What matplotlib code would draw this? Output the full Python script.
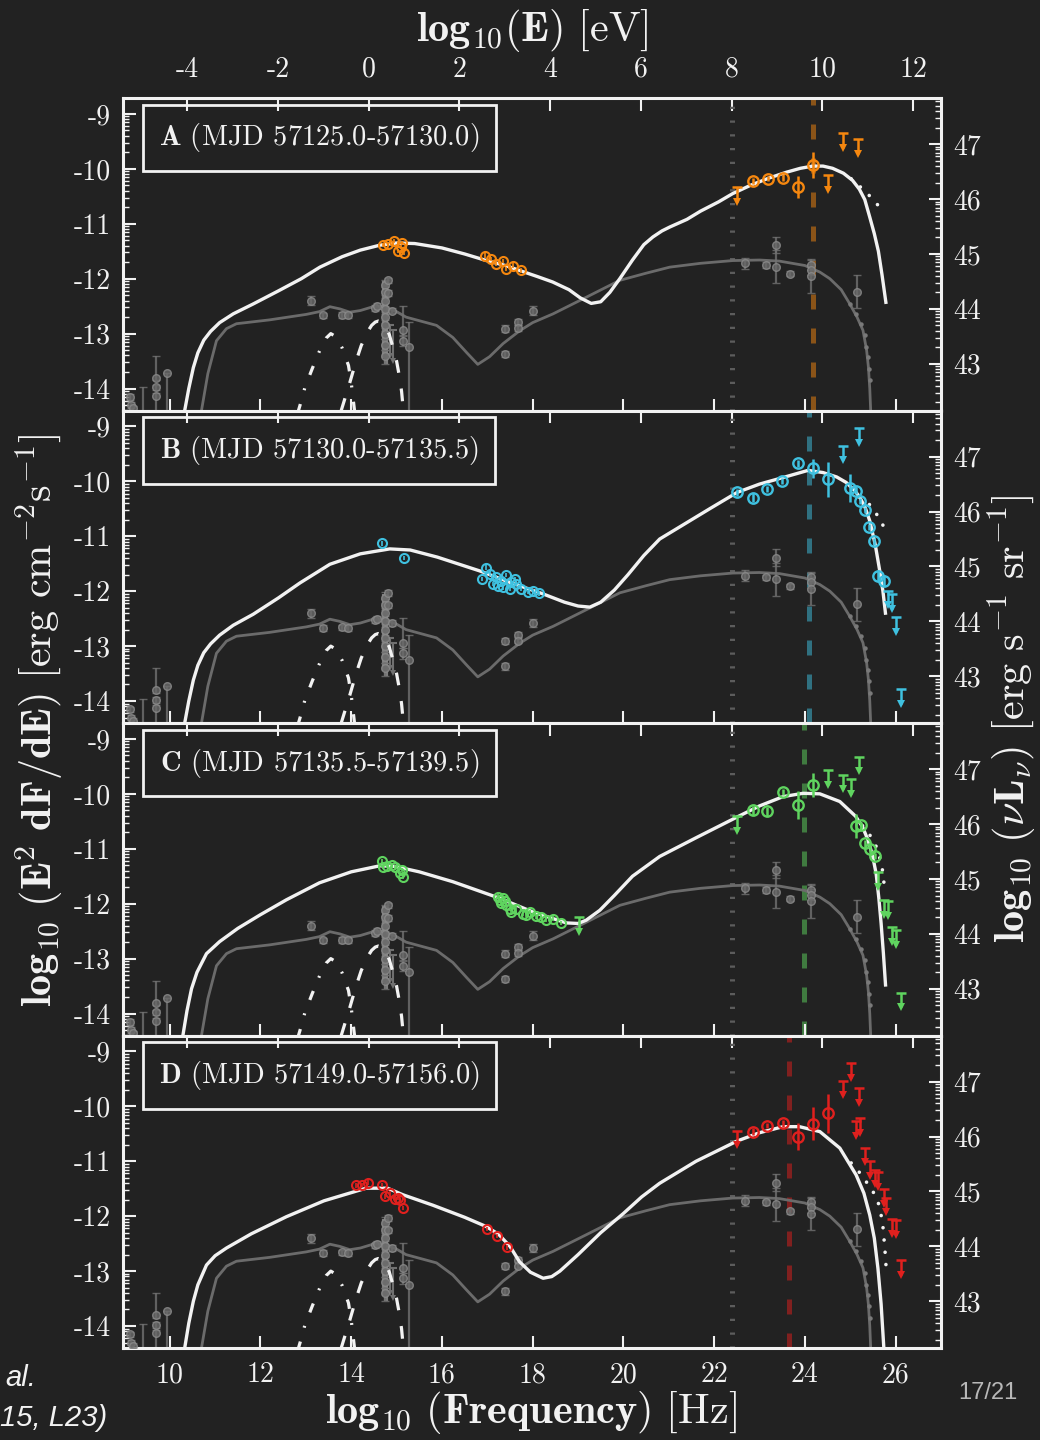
import numpy as np
import matplotlib
matplotlib.use("Agg")
import matplotlib.pyplot as plt
from matplotlib.ticker import FixedLocator, NullFormatter

# ------------------------------------------------------------------ data
panel_ids = ["A", "B", "C", "D"]
panel_periods = ["(MJD 57125.0-57130.0)", "(MJD 57130.0-57135.5)",
                 "(MJD 57135.5-57139.5)", "(MJD 57149.0-57156.0)"]
panel_colors = ["#f5870f", "#3fc1e0", "#5fd45f", "#e0201e"]
peak_freq = [24.18, 24.10, 23.97, 23.64]       # log10 Hz of coloured dashed line
lat_threshold_ev = 8.0                          # log10 eV of grey dotted line

freq_ticks = [10, 12, 14, 16, 18, 20, 22, 24, 26]
energy_ticks = [-4, -2, 0, 2, 4, 6, 8, 10, 12]
flux_ticks = [-14, -13, -12, -11, -10, -9]
lum_ticks = [43, 44, 45, 46, 47]

# historical (grey) model
grey_model_x = [10.70, 10.84, 11.03, 11.25, 11.47, 12.20, 13.01, 13.30, 13.53, 13.75, 13.97,
                14.20, 14.48, 14.70, 15.00, 15.21, 15.88, 16.24, 16.55, 16.79, 17.05, 17.35,
                17.71, 18.00, 18.45, 19.20, 19.92, 20.50, 21.02, 21.70, 22.41, 23.00, 23.44,
                24.00, 24.33, 24.55, 24.80, 24.99, 25.15, 25.28, 25.36, 25.40, 25.43, 25.45]
grey_model_y = [-14.40, -13.73, -13.13, -12.91, -12.82, -12.75, -12.65, -12.60, -12.51, -12.55,
                -12.61, -12.58, -12.51, -12.50, -12.60, -12.70, -12.85, -13.07, -13.35, -13.56,
                -13.42, -13.18, -12.95, -12.80, -12.64, -12.33, -12.03, -11.90, -11.79, -11.72,
                -11.67, -11.66, -11.68, -11.76, -11.88, -12.00, -12.20, -12.46, -12.70, -12.94,
                -13.30, -13.61, -14.00, -14.40]

# historical (grey) data points
hist_x = [9.12, 9.14, 9.20, 9.41, 9.69, 9.69, 9.69, 9.93, 13.12, 13.38, 13.80, 13.93, 14.52,
          14.56, 14.74, 14.74, 14.74, 14.74, 14.74, 14.74, 14.74, 14.74, 14.74, 14.81, 14.81,
          14.91, 15.14, 15.14, 15.28, 17.38, 17.38, 17.68, 17.68, 18.00, 22.67, 23.15, 23.37,
          23.37, 23.68, 24.14, 24.14, 24.14, 25.15]
hist_y = [-14.15, -14.30, -14.36, -14.50, -13.80, -13.98, -14.13, -13.72, -12.40, -12.67,
          -12.66, -12.67, -12.53, -12.50, -12.12, -12.25, -12.40, -12.55, -12.70, -12.85,
          -13.00, -13.20, -13.40, -12.03, -12.26, -12.58, -12.94, -13.13, -13.25, -12.91,
          -13.37, -12.79, -12.90, -12.58, -11.72, -11.75, -11.39, -11.78, -11.91, -11.75,
          -11.84, -11.96, -12.24]
hist_err_lo = [0.05, 0.05, 0.05, 0.00, 0.05, 0.05, 0.30, 0.80, 0.08, 0.05, 0.05, 0.05, 0.05,
               0.05, 0.10, 0.10, 0.10, 0.10, 0.10, 0.10, 0.10, 0.10, 0.15, 0.05, 0.05,
               0.05, 0.10, 0.10, 1.30, 0.06, 0.06, 0.05, 0.05, 0.08, 0.10, 0.05, 0.15,
               0.30, 0.05, 0.10, 0.10, 0.30, 0.30]
hist_err_hi = [0.05, 0.05, 0.05, 0.53, 0.40, 0.05, 0.05, 0.00, 0.08, 0.05, 0.05, 0.05, 0.05,
               0.05, 0.10, 0.10, 0.10, 0.10, 0.10, 0.10, 0.10, 0.10, 0.10, 0.05, 0.05,
               0.05, 0.45, 0.10, 0.46, 0.06, 0.06, 0.05, 0.05, 0.08, 0.10, 0.05, 0.15,
               0.30, 0.05, 0.10, 0.10, 0.30, 0.30]
hist_ul_x = [14.92, 14.86]
hist_ul_y = [-12.94, -12.85]
hist_tev_x = [24.99, 25.13, 25.24, 25.32, 25.35, 25.39, 25.41, 25.43]
hist_tev_y = [-12.46, -12.64, -12.82, -13.03, -13.25, -13.43, -13.64, -13.85]
# dense optical band of historical points
hist_band_x = [14.72, 14.76]
hist_band_top = [-12.05, -12.10]
hist_band_bot = [-13.45, -13.55]

# thermal components (same in all panels)
disk_x = [13.78, 13.97, 14.10, 14.22, 14.35, 14.45, 14.53, 14.60, 14.67, 14.75, 14.84,
          14.92, 15.00, 15.06, 15.11, 15.15]
disk_y = [-14.40, -13.89, -13.52, -13.22, -12.98, -12.85, -12.79, -12.77, -12.79, -12.86,
          -13.02, -13.25, -13.50, -13.77, -14.05, -14.40]
torus_x = [12.82, 12.87, 12.98, 13.14, 13.31, 13.45, 13.55, 13.65, 13.80, 13.94, 14.00,
           14.06, 14.08]
torus_y = [-14.45, -14.31, -13.98, -13.64, -13.30, -13.08, -13.00, -13.05, -13.26, -13.58,
           -13.89, -14.31, -14.45]

# panel A
A_model_x = [10.33, 10.42, 10.52, 10.62, 10.75, 10.90, 11.10, 11.40, 11.84, 12.40, 12.90,
             13.31, 13.80, 14.20, 14.63, 15.00, 15.40, 16.00, 16.50, 16.98, 17.40, 17.71,
             18.10, 18.44, 18.80, 19.05, 19.29, 19.50, 19.70, 19.92, 20.20, 20.45, 20.65,
             20.85, 21.02, 21.40, 21.70, 22.10, 22.41, 22.80, 23.20, 23.60, 23.90, 24.17,
             24.40, 24.61, 24.85, 25.05, 25.20, 25.32, 25.43, 25.53, 25.62, 25.70, 25.79]
A_model_y = [-14.40, -14.00, -13.62, -13.35, -13.12, -12.96, -12.80, -12.64, -12.46, -12.22,
             -12.00, -11.79, -11.60, -11.48, -11.39, -11.35, -11.36, -11.44, -11.55, -11.67,
             -11.76, -11.85, -11.96, -12.06, -12.20, -12.35, -12.45, -12.42, -12.25, -12.00,
             -11.66, -11.38, -11.24, -11.13, -11.06, -10.92, -10.77, -10.60, -10.45, -10.30,
             -10.17, -10.06, -9.99, -9.95, -9.95, -9.99, -10.08, -10.21, -10.37, -10.56,
             -10.88, -11.18, -11.50, -11.93, -12.46]
A_dot_x = [25.02, 25.21, 25.39, 25.57, 25.72]
A_dot_y = [-10.18, -10.32, -10.46, -10.62, -10.78]
A_lo_x = [14.70, 14.81, 14.94, 15.13, 15.03, 15.16, 15.09, 16.96, 17.09, 17.20, 17.35, 17.42,
          17.57, 17.74]
A_lo_y = [-11.39, -11.37, -11.31, -11.35, -11.50, -11.53, -11.42, -11.58, -11.64, -11.73,
          -11.68, -11.82, -11.76, -11.85]
A_g_x = [22.86, 23.19, 23.52, 23.85, 24.18]
A_g_y = [-10.22, -10.18, -10.16, -10.33, -9.93]
A_g_err = [0.05, 0.05, 0.07, 0.20, 0.23]
A_ul_x = [22.51, 24.51, 24.84, 25.17]
A_ul_y = [-10.33, -10.11, -9.35, -9.46]

# panel B
B_model_x = [10.33, 10.42, 10.52, 10.62, 10.75, 10.90, 11.10, 11.40, 11.84, 12.40, 12.87,
             13.53, 14.20, 14.85, 15.30, 15.90, 16.83, 17.50, 18.23, 18.70, 19.00, 19.26,
             19.50, 19.80, 20.10, 20.45, 20.80, 21.30, 21.90, 22.51, 23.00, 23.52, 24.07,
             24.40, 24.70, 24.91, 25.10, 25.21, 25.33, 25.43, 25.55, 25.65, 25.72, 25.78]
B_model_y = [-14.40, -14.00, -13.62, -13.35, -13.12, -12.96, -12.80, -12.62, -12.42, -12.12,
             -11.85, -11.51, -11.32, -11.23, -11.25, -11.38, -11.63, -11.84, -12.05, -12.20,
             -12.27, -12.29, -12.20, -11.98, -11.70, -11.35, -11.05, -10.80, -10.50, -10.20,
             -10.05, -9.93, -9.80, -9.84, -9.92, -10.02, -10.17, -10.29, -10.48, -10.72,
             -11.15, -11.63, -12.00, -12.43]
B_dot_x = [25.21, 25.35, 25.52, 25.66, 25.77]
B_dot_y = [-10.29, -10.35, -10.52, -10.70, -10.88]
B_lo_x = [14.67, 15.16, 16.98, 16.89, 17.05, 17.20, 17.31, 17.42, 17.53, 17.35, 17.64, 17.75,
          17.90, 18.14, 17.13, 17.24, 17.49, 17.60, 18.00]
B_lo_y = [-11.13, -11.40, -11.57, -11.78, -11.69, -11.75, -11.81, -11.70, -11.84, -11.93,
          -11.87, -11.96, -12.01, -12.04, -11.87, -11.90, -11.96, -11.78, -12.00]
B_g_x = [22.51, 22.86, 23.17, 23.50, 23.85, 24.18, 24.52, 25.00, 25.13, 25.21, 25.32, 25.41,
         25.52, 25.61, 25.74]
B_g_y = [-10.20, -10.30, -10.14, -9.99, -9.67, -9.76, -9.96, -10.12, -10.17, -10.36, -10.52,
         -10.83, -11.09, -11.72, -11.81]
B_g_err = [0.06, 0.08, 0.06, 0.06, 0.06, 0.17, 0.32, 0.25, 0.06, 0.06, 0.06, 0.06, 0.06,
           0.10, 0.10]
B_ul_x = [24.84, 25.19, 25.83, 25.92, 26.01, 26.11]
B_ul_y = [-9.35, -9.03, -11.99, -12.05, -12.47, -13.78]

# panel C
C_model_x = [10.29, 10.38, 10.48, 10.60, 10.81, 11.10, 11.50, 12.00, 12.57, 13.30, 14.00,
             14.63, 14.96, 15.50, 16.24, 17.27, 18.00, 18.74, 19.00, 19.18, 19.48, 19.80,
             20.20, 20.80, 21.60, 22.51, 23.00, 23.52, 23.96, 24.33, 24.77, 25.12, 25.27,
             25.39, 25.49, 25.57, 25.63, 25.68, 25.73, 25.78]
C_model_y = [-14.40, -13.95, -13.55, -13.25, -12.91, -12.69, -12.45, -12.20, -11.93, -11.62,
             -11.42, -11.31, -11.32, -11.42, -11.60, -11.90, -12.15, -12.35, -12.36, -12.30,
             -12.12, -11.85, -11.50, -11.14, -10.80, -10.42, -10.22, -10.05, -9.99, -10.00,
             -10.14, -10.41, -10.60, -10.84, -11.12, -11.45, -11.90, -12.36, -12.90, -13.51]
C_dot_x = [25.27, 25.34, 25.48, 25.59, 25.65, 25.71, 25.74, 25.76]
C_dot_y = [-10.58, -10.64, -10.81, -10.99, -11.17, -11.39, -11.60, -11.80]
C_lo_x = [14.67, 14.70, 14.78, 14.89, 14.96, 15.07, 15.11, 15.14, 17.24, 17.27, 17.31, 17.35,
          17.38, 17.42, 17.49, 17.53, 17.64, 17.79, 17.86, 17.93, 18.08, 18.19, 18.30, 18.45,
          18.63]
C_lo_y = [-11.23, -11.33, -11.31, -11.30, -11.33, -11.45, -11.39, -11.51, -11.87, -11.93,
          -11.99, -11.90, -11.96, -12.02, -12.09, -12.16, -12.09, -12.18, -12.21, -12.15,
          -12.23, -12.25, -12.30, -12.27, -12.35]
C_g_x = [22.86, 23.17, 23.52, 23.85, 24.18, 25.12, 25.24, 25.32, 25.43, 25.54]
C_g_y = [-10.30, -10.32, -9.97, -10.20, -9.84, -10.58, -10.57, -10.90, -11.01, -11.13]
C_g_err = [0.08, 0.08, 0.06, 0.25, 0.22, 0.22, 0.06, 0.06, 0.06, 0.06]
C_ul_x = [19.02, 22.51, 24.52, 24.84, 25.01, 25.19, 25.61, 25.74, 25.83, 25.92, 26.01, 26.11]
C_ul_y = [-12.24, -10.41, -9.56, -9.65, -9.73, -9.32, -11.42, -11.93, -11.96, -12.43, -12.48,
          -13.62]

# panel D
D_model_x = [10.33, 10.42, 10.52, 10.62, 10.81, 11.00, 11.25, 11.80, 12.57, 13.40, 14.33,
             14.80, 15.14, 15.80, 16.50, 16.98, 17.25, 17.50, 17.71, 17.95, 18.23, 18.42,
             18.60, 19.00, 19.50, 20.00, 20.40, 20.80, 21.60, 22.51, 23.00, 23.52, 23.88,
             24.33, 24.77, 25.13, 25.30, 25.43, 25.53, 25.61, 25.68, 25.74]
D_model_y = [-14.40, -13.95, -13.55, -13.25, -12.89, -12.72, -12.58, -12.32, -12.01, -11.72,
             -11.49, -11.49, -11.61, -11.80, -12.02, -12.19, -12.33, -12.55, -12.83, -13.02,
             -13.13, -13.10, -13.00, -12.70, -12.30, -11.95, -11.65, -11.40, -11.00, -10.63,
             -10.48, -10.37, -10.37, -10.46, -10.76, -11.25, -11.58, -11.98, -12.40, -12.95,
             -13.60, -14.40]
D_dot_x = [25.02, 25.19, 25.35, 25.50, 25.61, 25.68, 25.72, 25.74, 25.76, 25.78, 25.79]
D_dot_y = [-11.03, -11.19, -11.37, -11.55, -11.73, -11.98, -12.19, -12.37, -12.58, -12.77,
           -12.95]
D_lo_x = [14.11, 14.24, 14.37, 14.67, 14.74, 14.85, 14.96, 15.07, 15.14, 15.03, 17.00, 17.22,
          17.44]
D_lo_y = [-11.44, -11.43, -11.39, -11.43, -11.64, -11.58, -11.68, -11.71, -11.85, -11.66,
          -12.23, -12.36, -12.57]
D_g_x = [22.86, 23.17, 23.52, 23.85, 24.18, 24.52]
D_g_y = [-10.46, -10.35, -10.31, -10.55, -10.32, -10.13]
D_g_err = [0.06, 0.05, 0.06, 0.25, 0.30, 0.35]
D_ul_x = [22.51, 24.84, 25.02, 25.19, 25.13, 25.21, 25.33, 25.43, 25.54, 25.61, 25.74, 25.79,
          25.92, 26.01, 26.11]
D_ul_y = [-10.44, -9.53, -9.21, -9.66, -10.27, -10.21, -10.75, -10.99, -11.15, -11.20,
          -11.50, -11.66, -12.05, -12.07, -12.80]

HZ_PER_EV = 14.383      # log10(nu/Hz) = log10(E/eV) + 14.383
NUL_OFFSET = 56.55      # log10(nuL) = log10(E^2 dF/dE) + 56.55

panels = [
    dict(model=(A_model_x, A_model_y), dot=(A_dot_x, A_dot_y), lo=(A_lo_x, A_lo_y),
         g=(A_g_x, A_g_y, A_g_err), ul=(A_ul_x, A_ul_y)),
    dict(model=(B_model_x, B_model_y), dot=(B_dot_x, B_dot_y), lo=(B_lo_x, B_lo_y),
         g=(B_g_x, B_g_y, B_g_err), ul=(B_ul_x, B_ul_y)),
    dict(model=(C_model_x, C_model_y), dot=(C_dot_x, C_dot_y), lo=(C_lo_x, C_lo_y),
         g=(C_g_x, C_g_y, C_g_err), ul=(C_ul_x, C_ul_y)),
    dict(model=(D_model_x, D_model_y), dot=(D_dot_x, D_dot_y), lo=(D_lo_x, D_lo_y),
         g=(D_g_x, D_g_y, D_g_err), ul=(D_ul_x, D_ul_y)),
]

# ------------------------------------------------------------------ style
BG = "#222222"
WHITE = "#f2f2f2"
GREY_LINE = "#6b6b6b"
plt.rcParams["mathtext.fontset"] = "cm"
plt.rcParams["axes.unicode_minus"] = False
plt.rcParams["font.family"] = ["cmr10", "DejaVu Serif"]
TICK_FS = 20
LABEL_FS = 30.5

fig = plt.figure(figsize=(10.4, 14.4), dpi=100, facecolor=BG)

L, R = 123 / 1040, 941 / 1040
top_px, bot_px = 98, 1348
h = (bot_px - top_px) / 4 / 1440


def minor_log(lo, hi):
    out = []
    for n in range(lo, hi):
        for k in range(2, 10):
            out.append(n + np.log10(k))
    return out


def draw_ul(ax, xs, ys, color, length=0.27, ms=6.0, lw=1.8, z=5, alpha=1.0):
    xs = np.asarray(xs, float)
    ys = np.asarray(ys, float)
    ax.vlines(xs, ys - length, ys, color=color, lw=lw, zorder=z, alpha=alpha)
    ax.plot(xs, ys, ls="none", marker="_", ms=ms + 1, mew=lw, color=color, zorder=z,
            alpha=alpha)
    ax.plot(xs, ys - length, ls="none", marker="v", ms=ms, mew=0, color=color, zorder=z,
            alpha=alpha)


for i, p in enumerate(panels):
    bottom = 1 - (top_px + (i + 1) * (bot_px - top_px) / 4) / 1440
    ax = fig.add_axes([L, bottom, R - L, h])
    ax.set_facecolor(BG)
    ax.set_xlim(8.97, 27.0)
    ax.set_ylim(-14.4, -8.71)
    for s in ax.spines.values():
        s.set_color(WHITE)
        s.set_linewidth(2.2)

    col = panel_colors[i]

    # vertical reference lines
    ax.axvline(lat_threshold_ev + HZ_PER_EV, color="#5c5c5c", lw=3.6,
               ls=(0, (0.45, 2.3)), zorder=1)
    ax.axvline(peak_freq[i], color=col, lw=3.6, ls=(0, (3.0, 3.8)), alpha=0.5, zorder=1.5)

    # grey historical model + data
    ax.plot(grey_model_x, grey_model_y, color=GREY_LINE, lw=2.0, zorder=2)
    ax.vlines(hist_band_x, hist_band_bot, hist_band_top, color="#8f8f8f", lw=3.0,
              zorder=2.4, alpha=0.85)
    ax.errorbar(hist_x, hist_y, yerr=[hist_err_lo, hist_err_hi], fmt="o", ms=5.5,
                mfc="#6a6a6a", mec="#8c8c8c", mew=1.0, ecolor="#727272", elinewidth=1.6,
                capsize=3, capthick=1.4, zorder=2.5, alpha=0.8)
    draw_ul(ax, hist_ul_x, hist_ul_y, "#707070", length=0.55, ms=5, lw=1.5, z=2.5)
    ax.plot(hist_tev_x, hist_tev_y, ls="none", marker="o", ms=2.2, color="#7a7a7a", zorder=2.5)

    # thermal components
    ax.plot(disk_x, disk_y, color=WHITE, lw=2.3, ls=(0, (4.0, 5.0)), zorder=3)
    ax.plot(torus_x, torus_y, color=WHITE, lw=2.3, ls=(0, (3.0, 4.5, 0.6, 4.5)), zorder=3)

    # panel model
    mx, my = p["model"]
    ax.plot(mx, my, color=WHITE, lw=2.4, zorder=4, solid_capstyle="butt")
    dx, dy = p["dot"]
    ax.plot(dx, dy, color=WHITE, lw=2.6, ls=(0, (0.01, 3.4)), dash_capstyle="round", zorder=4)

    # coloured data
    lx, ly = p["lo"]
    ax.errorbar(lx, ly, yerr=0.04, fmt="o", ms=6.5, mfc="none", mec=col, mew=1.5,
                ecolor=col, elinewidth=1.2, zorder=6)
    gx, gy, ge = p["g"]
    ax.errorbar(gx, gy, yerr=ge, fmt="o", ms=7.5, mfc="none", mec=col, mew=1.7,
                ecolor=col, elinewidth=1.8, zorder=6)
    ux, uy = p["ul"]
    draw_ul(ax, ux, uy, col)

    # label box
    ax.text(0.240, 0.872, r"$\mathbf{%s}$ %s" % (panel_ids[i], panel_periods[i]),
            transform=ax.transAxes, ha="center", va="center", fontsize=20.5, color=WHITE,
            bbox=dict(boxstyle="square,pad=0.58", fc="none", ec=WHITE, lw=2.0), zorder=7)

    # ticks: bottom frequency
    ax.set_xticks(freq_ticks)
    ax.tick_params(axis="x", which="both", direction="in", top=False, bottom=True,
                   length=9, width=1.5, color=WHITE, labelcolor=WHITE, labelsize=TICK_FS,
                   pad=10)
    if i == 3:
        ax.set_xticklabels([str(t) for t in freq_ticks])
    else:
        ax.set_xticklabels([])

    # left flux ticks
    ax.set_yticks(flux_ticks)
    ax.set_yticklabels([str(t) for t in flux_ticks])
    ax.yaxis.set_minor_locator(FixedLocator(minor_log(-15, -8)))
    ax.yaxis.set_minor_formatter(NullFormatter())
    ax.tick_params(axis="y", which="major", direction="in", left=True, right=False,
                   length=9, width=1.5, color=WHITE, labelcolor=WHITE, labelsize=TICK_FS,
                   pad=9)
    ax.tick_params(axis="y", which="minor", direction="in", left=True, right=False,
                   length=4.5, width=1.0, color=WHITE)

    # top energy axis
    sx = ax.secondary_xaxis("top", functions=(lambda f: f - HZ_PER_EV,
                                              lambda e: e + HZ_PER_EV))
    sx.set_xticks(energy_ticks)
    sx.tick_params(axis="x", direction="in", length=9, width=1.5, color=WHITE,
                   labelcolor=WHITE, labelsize=TICK_FS, pad=11)
    if i == 0:
        sx.set_xticklabels([str(t) for t in energy_ticks])
    else:
        sx.set_xticklabels([])
    sx.spines["top"].set_visible(False)

    # right luminosity axis
    sy = ax.secondary_yaxis("right", functions=(lambda y: y + NUL_OFFSET,
                                                lambda y: y - NUL_OFFSET))
    sy.set_yticks(lum_ticks)
    sy.set_yticklabels([str(t) for t in lum_ticks])
    sy.yaxis.set_minor_locator(FixedLocator(minor_log(41, 48)))
    sy.yaxis.set_minor_formatter(NullFormatter())
    sy.tick_params(axis="y", which="major", direction="in", length=9, width=1.5, color=WHITE,
                   labelcolor=WHITE, labelsize=TICK_FS, pad=9)
    sy.tick_params(axis="y", which="minor", direction="in", length=4.5, width=1.0,
                   color=WHITE)
    sy.spines["right"].set_visible(False)

# axis titles
fig.text(532 / 1040, 1 - 30 / 1440, r"$\mathbf{log_{10}(E)}\ \mathrm{[eV]}$",
         ha="center", va="center", fontsize=LABEL_FS, color=WHITE)
fig.text(531 / 1040, 1 - 1412 / 1440,
         r"$\mathbf{log_{10}\ (Frequency)}\ \mathrm{[Hz]}$",
         ha="center", va="center", fontsize=LABEL_FS, color=WHITE)
fig.text(40 / 1040, 1 - 720 / 1440,
         r"$\mathbf{log_{10}\ (E^2\ dF/dE)}\ \mathrm{[erg\ cm^{-2}s^{-1}]}$",
         ha="center", va="center", rotation=90, fontsize=LABEL_FS, color=WHITE)
fig.text(1012 / 1040, 1 - 719 / 1440,
         r"$\mathbf{log_{10}}\ (\nu \mathbf{L}_{\nu})\ \mathrm{[erg\ s^{-1}\ sr^{-1}]}$",
         ha="center", va="center", rotation=90, fontsize=LABEL_FS, color=WHITE)

# slide remnants
fig.text(5 / 1040, 1 - 1378 / 1440, "al.", family="Liberation Sans", style="italic",
         fontsize=21, color=WHITE, ha="left", va="center")
fig.text(0 / 1040, 1 - 1418 / 1440, "15, L23)", family="Liberation Sans", style="italic",
         fontsize=21, color=WHITE, ha="left", va="center")
fig.text(988 / 1040, 1 - 1393 / 1440, "17/21", family="Liberation Sans",
         fontsize=17, color="#b8b8b8", ha="center", va="center")

fig.savefig("out.png", dpi=100, facecolor=BG)
